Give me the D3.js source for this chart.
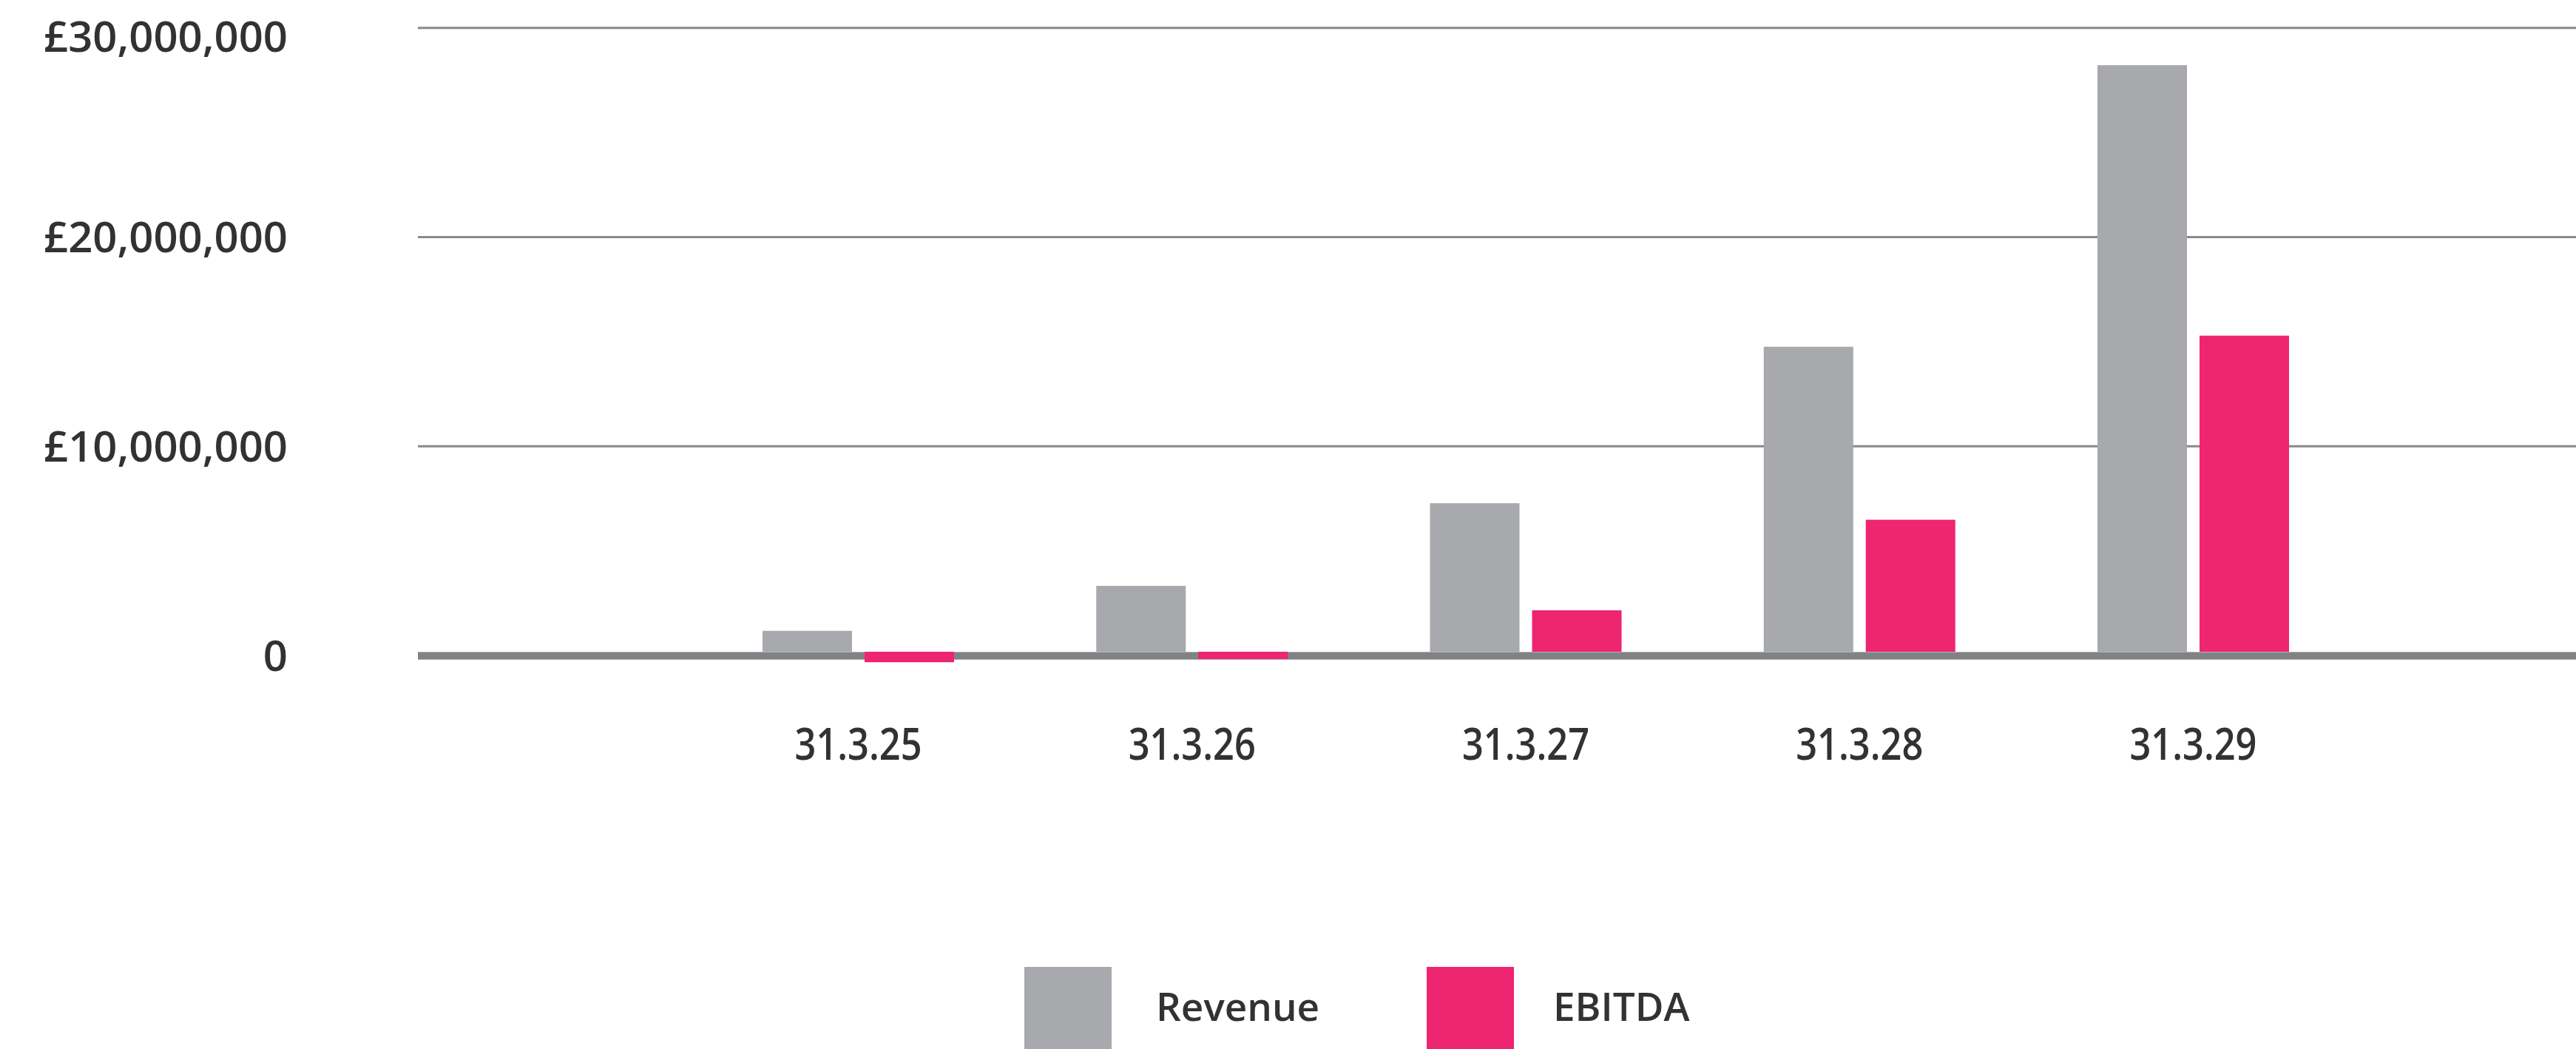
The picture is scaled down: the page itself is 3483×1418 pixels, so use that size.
<!DOCTYPE html>
<html>
<head>
<meta charset="utf-8">
<script src="https://cdn.jsdelivr.net/npm/d3@7"></script>
<style>
  html, body { margin: 0; padding: 0; background: #ffffff; }
  svg { display: block; }
  text { font-family: "Open Sans", "Noto Sans", sans-serif; fill: #333132; }
</style>
</head>
<body>
<div id="chart"></div>
<script>
// ---- data ----
const categories = ["31.3.25", "31.3.26", "31.3.27", "31.3.28", "31.3.29"];
const seriesNames = ["Revenue", "EBITDA"];
const revenue = [1000000, 3150000, 7100000, 14580000, 28040000];
const ebitda = [-500000, -350000, 1980000, 6310000, 15110000];
const yTickValues = [0, 10000000, 20000000, 30000000];
const yTickLabels = ["0", "£10,000,000", "£20,000,000", "£30,000,000"];
const seriesColors = ["#a8a9ad", "#ee2571"];

// ---- layout ----
const W = 3483, H = 1418;
const plotLeft = 565, plotRight = W;
const axisWidth = 11;
const minLabelY = 49; // keep the top tick label inside the picture

const svg = d3.select("#chart").append("svg")
  .attr("width", W).attr("height", H);

const y = d3.scaleLinear().domain([0, 30000000]).range([886, 37.7]);

const x = d3.scaleBand().domain(categories)
  .range([1031, 3095]).paddingInner(0.426).paddingOuter(0);

const xSub = d3.scaleBand().domain(seriesNames)
  .range([0, x.bandwidth()]).paddingInner(0.123).paddingOuter(0);

const color = d3.scaleOrdinal().domain(seriesNames).range(seriesColors);

// gridlines (non-zero)
svg.append("g").selectAll("line")
  .data(yTickValues.filter(v => v !== 0))
  .join("line")
  .attr("x1", plotLeft).attr("x2", plotRight)
  .attr("y1", d => y(d)).attr("y2", d => y(d))
  .attr("stroke", "#88898c").attr("stroke-width", 3);

// zero axis line
const zeroY = y(0);
svg.append("line")
  .attr("x1", plotLeft).attr("x2", plotRight)
  .attr("y1", zeroY + 0.5).attr("y2", zeroY + 0.5)
  .attr("stroke", "#b4b5b8").attr("stroke-width", axisWidth);
svg.append("line")
  .attr("x1", plotLeft).attr("x2", plotRight)
  .attr("y1", zeroY + 0.5).attr("y2", zeroY + 0.5)
  .attr("stroke", "#818286").attr("stroke-width", axisWidth - 2);

// y axis labels
const yAxis = d3.axisLeft(y)
  .tickValues(yTickValues)
  .tickFormat((d, i) => yTickLabels[i])
  .tickSize(0).tickPadding(0);
const yg = svg.append("g").attr("transform", "translate(389,0)").call(yAxis);
yg.select(".domain").remove();
yg.selectAll(".tick")
  .attr("transform", d => `translate(0,${Math.max(y(d), minLabelY)})`);
yg.selectAll("text")
  .attr("font-family", "'Open Sans', sans-serif")
  .attr("font-size", 58)
  .attr("font-weight", 600)
  .attr("fill", "#333132")
  .attr("dy", "0.36em");

// bars (sit on top edge of the axis stroke)
const rows = categories.map((c, i) => ({ cat: c, values: [revenue[i], ebitda[i]] }));
const groups = svg.append("g")
  .attr("transform", `translate(0,${-(axisWidth - 1) / 2})`)
  .selectAll("g").data(rows).join("g")
  .attr("transform", d => `translate(${x(d.cat)},0)`);

groups.selectAll("rect")
  .data(d => d.values.map((v, j) => ({ name: seriesNames[j], value: v })))
  .join("rect")
  .attr("x", d => xSub(d.name))
  .attr("width", xSub.bandwidth())
  .attr("y", d => y(Math.max(0, d.value)))
  .attr("height", d => Math.abs(y(d.value) - y(0)))
  .attr("fill", d => color(d.name));

// x labels
const xAxis = d3.axisBottom(x).tickSize(0).tickPadding(0);
const xg = svg.append("g").attr("transform", "translate(0,985)").call(xAxis);
xg.select(".domain").remove();
xg.selectAll("text")
  .attr("font-family", "'Open Sans', sans-serif")
  .attr("font-size", 59)
  .attr("font-weight", 600)
  .attr("fill", "#333132")
  .attr("dy", "0.71em")
  .attr("textLength", 172)
  .attr("lengthAdjust", "spacingAndGlyphs");

// legend
const legendX = d3.scaleOrdinal().domain(seriesNames).range([1385, 1929]);
const legend = svg.append("g").selectAll("g").data(seriesNames).join("g")
  .attr("transform", d => `translate(${legendX(d)},1307)`);
legend.append("rect")
  .attr("width", 118).attr("height", 118)
  .attr("fill", d => color(d));
legend.append("text")
  .attr("x", (d, i) => i === 0 ? 178 : 171)
  .attr("y", 73)
  .attr("font-size", 53)
  .attr("font-weight", 600)
  .text(d => d);
</script>
</body>
</html>
